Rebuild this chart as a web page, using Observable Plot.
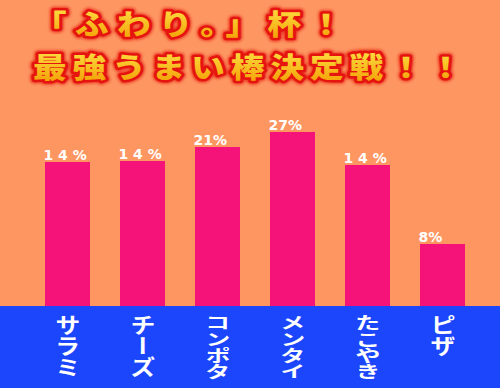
<!DOCTYPE html>
<html><head><meta charset="utf-8">
<script src="https://cdn.jsdelivr.net/npm/d3@7"></script>
<script src="https://cdn.jsdelivr.net/npm/@observablehq/plot@0.6"></script>
<style>
html,body{margin:0;padding:0;background:#FE9662;}
#wrap{position:relative;width:500px;height:388px;overflow:hidden;}
#title{position:absolute;left:0;top:0;}
.vcat text{writing-mode:vertical-rl;text-orientation:upright;}
</style></head><body><div id="wrap"></div>
<script>
const categories = ["サラミ","チーズ","コンポタ","メンタイ","たこやき","ピザ"];
const shareLabels = ["1 4 %","1 4 %","21%","27%","1 4 %","8%"];
const barHeights = [144,145,159,174,141,62];
const titleLines = ["「ふわり。」杯！","最強うまい棒決定戦！！"];

const data = categories.map((c,i)=>({category:c, label:shareLabels[i], h:barHeights[i]}));

const chart = Plot.plot({
  width:500, height:388,
  marginTop:132, marginBottom:82, marginLeft:43, marginRight:34,
  style:{background:"linear-gradient(#FE9662 0 306px, #1B46FB 306px)", overflow:"visible"},
  x:{domain:categories, paddingInner:0.405, paddingOuter:0, axis:null},
  y:{domain:[0,174], axis:null},
  marks:[
    Plot.barY(data,{x:"category", y:"h", fill:"#F5137A"}),
    Plot.text(data,{x:"category", y:"h", text:"label", textAnchor:"start", lineAnchor:"bottom",
      dx:-24.5, dy:-3, fill:"white", fontSize:14, fontWeight:"bold", fontFamily:"DejaVu Sans"}),
    Plot.text(data,{x:"category", frameAnchor:"bottom", text:"category", textAnchor:"start",
      dy:8, fill:"white", fontSize:19.5, fontWeight:"bold", fontFamily:"Noto Sans CJK JP", className:"vcat"})
  ]
});
// stretch the vertical category labels to fit the blue band, as in the reference
d3.select(chart).selectAll(".vcat text").each(function(){
  const n = this.textContent.length;
  const sy = Math.min(1.08, 66 / (n * 19.5));
  const cur = this.getAttribute("transform") || "";
  this.setAttribute("transform", cur + ` scale(1.3,${sy})`);
});
const wrap = document.getElementById("wrap");
wrap.appendChild(chart);

const ns = "http://www.w3.org/2000/svg";
const t = document.createElementNS(ns,"svg");
t.setAttribute("id","title"); t.setAttribute("width","500"); t.setAttribute("height","100");
t.innerHTML = `<defs><linearGradient id="tg" x1="0" y1="0" x2="0" y2="1">
<stop offset="0" stop-color="#FFE84A"/><stop offset="1" stop-color="#F39A00"/></linearGradient>
<filter id="glow" x="-10%" y="-30%" width="120%" height="160%"><feGaussianBlur stdDeviation="1.5"/></filter></defs>`;
const g = document.createElementNS(ns,"g");
g.setAttribute("transform","scale(1.2,1)");
g.setAttribute("font-family","Noto Sans CJK JP");
g.setAttribute("font-weight","900");
g.setAttribute("font-size","28");
const baselines=[35,78];
const spacing=[7,5];
titleLines.forEach((s,i)=>{
  const glow=document.createElementNS(ns,"text");
  glow.setAttribute("x",27.5); glow.setAttribute("y",baselines[i]);
  glow.setAttribute("letter-spacing",spacing[i]);
  glow.setAttribute("fill","#E5140F"); glow.setAttribute("stroke","#E5140F");
  glow.setAttribute("stroke-width","7"); glow.setAttribute("stroke-linejoin","round");
  glow.setAttribute("filter","url(#glow)"); glow.setAttribute("opacity","0.8");
  glow.textContent=s; g.appendChild(glow);
  const tx=document.createElementNS(ns,"text");
  tx.setAttribute("x",27.5); tx.setAttribute("y",baselines[i]);
  tx.setAttribute("letter-spacing",spacing[i]);
  tx.setAttribute("fill","url(#tg)"); tx.setAttribute("stroke","#E5140F");
  tx.setAttribute("stroke-width","5"); tx.setAttribute("stroke-linejoin","round");
  tx.setAttribute("paint-order","stroke");
  tx.textContent=s; g.appendChild(tx);
});
t.appendChild(g);
wrap.appendChild(t);
</script></body></html>
